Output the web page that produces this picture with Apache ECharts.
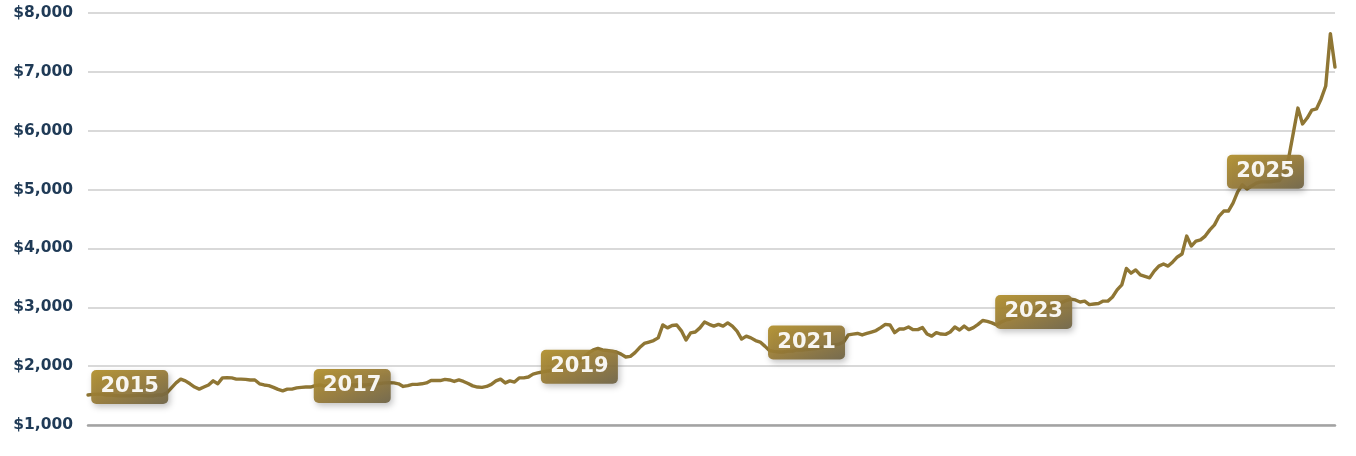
<!DOCTYPE html>
<html>
<head>
<meta charset="utf-8">
<script src="https://cdn.jsdelivr.net/npm/echarts@6/dist/echarts.min.js"></script>
<style>
  html, body { margin: 0; padding: 0; background: #fff; }
  #chart { width: 1356px; height: 456px; }
</style>
</head>
<body>
<div id="chart"></div>
<script>
// price per half month (Aug 2014 .. Oct 2025)
const prices = [
  // 2014
  1510,1520,1525,1525,1510,1510,1500,1495,1495,1495,
  // 2015
  1500,1510,1500,1495,1495,1510,1510,1545,1630,1715,1780,1750,1700,1645,1610,1645,1680,1750,1700,1800,1805,1800,1780,1780,
  // 2016
  1775,1765,1765,1700,1680,1670,1640,1605,1580,1610,1610,1630,1640,1645,1645,1670,1680,1660,1670,1665,1655,1670,1670,1680,
  // 2017
  1680,1680,1680,1690,1700,1705,1715,1720,1715,1700,1655,1670,1690,1690,1700,1715,1755,1755,1755,1775,1765,1740,1765,1740,
  // 2018
  1705,1665,1645,1640,1655,1690,1750,1780,1715,1750,1730,1800,1800,1815,1865,1885,1900,1915,1925,1935,1950,1970,1995,2020,
  // 2019
  2085,2155,2225,2275,2300,2275,2265,2255,2240,2205,2155,2165,2230,2315,2385,2410,2435,2480,2700,2650,2690,2700,2600,2445,
  // 2020
  2565,2580,2650,2750,2710,2680,2710,2680,2735,2680,2595,2460,2510,2480,2435,2410,2340,2265,2250,2240,2240,2255,2255,2275,
  // 2021
  2275,2280,2290,2300,2310,2325,2340,2360,2375,2410,2530,2545,2555,2530,2555,2580,2605,2655,2710,2700,2570,2630,2630,2665,
  // 2022
  2620,2620,2655,2545,2510,2570,2545,2540,2580,2665,2615,2680,2620,2655,2710,2775,2760,2735,2700,2750,2785,2800,2835,2870,
  // 2023
  2885,2920,2935,2960,2990,3005,3040,3055,3080,3115,3140,3125,3090,3105,3045,3055,3065,3105,3105,3175,3295,3380,3660,3580,
  // 2024
  3635,3550,3525,3500,3615,3700,3735,3700,3770,3855,3905,4210,4040,4125,4145,4210,4315,4400,4550,4635,4635,4770,4960,5080,
  // 2025
  5010,5060,5110,5130,5130,5130,5145,5155,5265,5535,5960,6385,6115,6215,6350,6370,6540,6760,7650,7080
];

// half-month dates matching the prices above
const dates = [];
for (let y = 2014, m = 8; dates.length < prices.length; ) {
  const mm = String(m).padStart(2, '0');
  dates.push(`${y}-${mm}-01`, `${y}-${mm}-15`);
  if (++m > 12) { m = 1; y++; }
}

// year badges: label, index into dates, price level
const badgeYears = ['2015', '2017', '2019', '2021', '2023', '2025'];
const badgeIndex = [9, 57, 106, 155, 204, 254];
const badgeLevel = [1646, 1663, 1990, 2402, 2920, 5304];

const yTicks = [1000, 2000, 3000, 4000, 5000, 6000, 7000, 8000];

const chart = echarts.init(document.getElementById('chart'));

const badgePath = 'path://M5,0H71A5,5 0 0 1 76,5V29A5,5 0 0 1 71,34H5A5,5 0 0 1 0,29V5A5,5 0 0 1 5,0Z';

chart.setOption({
  animation: false,
  grid: { left: 88, right: 21, top: 13, bottom: 31 },
  xAxis: {
    type: 'category',
    data: dates,
    boundaryGap: false,
    axisLine: { show: true, lineStyle: { color: '#a3a3a3', width: 2.5 } },
    axisTick: { show: false },
    axisLabel: { show: false },
    splitLine: { show: false }
  },
  yAxis: {
    type: 'value',
    min: yTicks[0],
    max: yTicks[yTicks.length - 1],
    interval: 1000,
    axisLine: { show: false },
    axisTick: { show: false },
    axisLabel: {
      margin: 15,
      color: '#1f3a56',
      fontFamily: 'DejaVu Sans',
      fontWeight: 'bold',
      fontSize: 15.5,
      formatter: v => '$' + v.toLocaleString('en-US')
    },
    splitLine: { lineStyle: { color: '#cdcdcd', width: 1.5 } }
  },
  series: [
    {
      type: 'line',
      data: prices,
      showSymbol: false,
      z: 2,
      lineStyle: { color: '#8f7634', width: 3.4, cap: 'round', join: 'round' }
    },
    {
      type: 'scatter',
      z: 5,
      symbol: badgePath,
      symbolSize: [77, 34],
      data: badgeYears.map((y, i) => ({ value: [badgeIndex[i], badgeLevel[i]], name: y })),
      itemStyle: {
        opacity: 0.93,
        color: new echarts.graphic.LinearGradient(0, 0, 1, 1, [
          { offset: 0, color: '#b18f2a' },
          { offset: 0.5, color: '#967a37' },
          { offset: 1, color: '#6f6447' }
        ]),
        shadowBlur: 6,
        shadowColor: 'rgba(0,0,0,0.25)',
        shadowOffsetX: 2,
        shadowOffsetY: 3
      },
      label: {
        show: true,
        position: 'inside',
        formatter: p => p.name,
        color: '#ffffff',
        fontFamily: 'DejaVu Sans',
        fontWeight: 'bold',
        fontSize: 21
      }
    }
  ]
});
</script>
</body>
</html>
